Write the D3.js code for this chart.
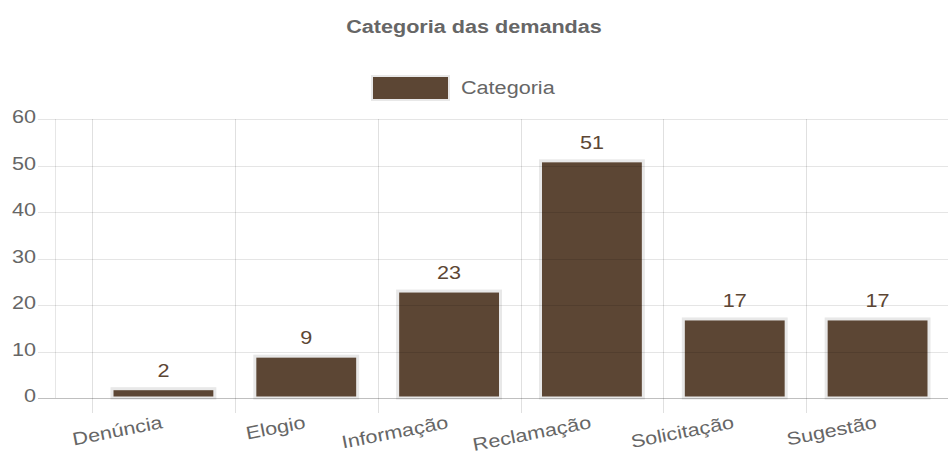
<!DOCTYPE html>
<html>
<head>
<meta charset="utf-8">
<script src="https://cdn.jsdelivr.net/npm/d3@7"></script>
<style>
  body { margin: 0; background: #fff; }
  text { font-family: "Liberation Sans", Arial, sans-serif; }
</style>
</head>
<body>
<svg width="948" height="453"></svg>
<script>
var categories = ["Denúncia", "Elogio", "Informação", "Reclamação", "Solicitação", "Sugestão"];
var values = [2, 9, 23, 51, 17, 17];
var yTicks = [0, 10, 20, 30, 40, 50, 60];
var seriesName = "Categoria";
var chartTitle = "Categoria das demandas";

var svg = d3.select("svg"),
    barColor = "#5c4634",
    borderColor = "#e8e8e8",
    textColor = "#666",
    stretch = 1.2; // the reference looks a bit wider than tall

var x = d3.scaleBand()
    .domain(categories)
    .range([92, 949]);

var y = d3.scaleLinear()
    .domain([0, 60])
    .range([398, 119]);

// widen text horizontally to match the reference
function widen(sel) {
  sel.each(function() {
    var w = this.getComputedTextLength();
    d3.select(this).attr("textLength", w * stretch).attr("lengthAdjust", "spacingAndGlyphs");
  });
}

// title
svg.append("text")
    .attr("x", 474)
    .attr("y", 33)
    .attr("text-anchor", "middle")
    .attr("font-size", 18)
    .attr("font-weight", "bold")
    .attr("fill", textColor)
    .text(chartTitle)
    .call(widen);

// legend
svg.append("rect")
    .attr("x", 372)
    .attr("y", 76)
    .attr("width", 77)
    .attr("height", 24)
    .attr("fill", barColor)
    .attr("stroke", borderColor)
    .attr("stroke-width", 2);

svg.append("text")
    .attr("x", 461)
    .attr("y", 94)
    .attr("font-size", 18)
    .attr("fill", textColor)
    .text(seriesName)
    .call(widen);

// vertical grid
svg.append("line")
    .attr("x1", 55.5).attr("x2", 55.5)
    .attr("y1", y(60)).attr("y2", y(0))
    .attr("stroke", "#e6e6e6");

svg.append("g")
  .selectAll("line")
  .data(categories)
  .enter().append("line")
    .attr("x1", function(d) { return Math.round(x(d)) + 0.5; })
    .attr("x2", function(d) { return Math.round(x(d)) + 0.5; })
    .attr("y1", y(60))
    .attr("y2", y(0) + 15)
    .attr("stroke", "#e0e0e0");

// bars
var bw = x.bandwidth() * 0.72;

svg.append("g")
  .selectAll("rect")
  .data(values)
  .enter().append("rect")
    .attr("x", function(d, i) { return x(categories[i]) + (x.bandwidth() - bw) / 2; })
    .attr("y", function(d) { return y(d); })
    .attr("width", bw)
    .attr("height", function(d) { return y(0) - y(d); })
    .attr("fill", barColor)
    .attr("stroke", borderColor)
    .attr("stroke-width", 3);

// horizontal grid, drawn over the bars
svg.append("g")
  .selectAll("line")
  .data(yTicks)
  .enter().append("line")
    .attr("x1", 38)
    .attr("x2", 948)
    .attr("y1", function(d) { return Math.round(y(d)) + 0.5; })
    .attr("y2", function(d) { return Math.round(y(d)) + 0.5; })
    .attr("stroke", function(d) { return d === 0 ? "rgba(0,0,0,0.25)" : "rgba(0,0,0,0.1)"; });

// y tick labels
svg.append("g")
  .selectAll("text")
  .data(yTicks)
  .enter().append("text")
    .attr("x", 36)
    .attr("y", function(d) { return y(d) + 4; })
    .attr("text-anchor", "end")
    .attr("font-size", 18)
    .attr("fill", textColor)
    .text(function(d) { return d; })
    .call(widen);

// x labels
svg.append("g")
  .selectAll("text")
  .data(categories)
  .enter().append("text")
    .attr("transform", function(d) { return "translate(" + (x(d) + x.bandwidth() / 2) + ",428) rotate(-11)"; })
    .attr("text-anchor", "end")
    .attr("font-size", 18)
    .attr("fill", textColor)
    .text(function(d) { return d; })
    .call(widen);

// value labels
svg.append("g")
  .selectAll("text")
  .data(values)
  .enter().append("text")
    .attr("x", function(d, i) { return x(categories[i]) + x.bandwidth() / 2; })
    .attr("y", function(d) { return y(d) - 12; })
    .attr("text-anchor", "middle")
    .attr("font-size", 18)
    .attr("fill", barColor)
    .text(function(d) { return d; })
    .call(widen);
</script>
</body>
</html>
